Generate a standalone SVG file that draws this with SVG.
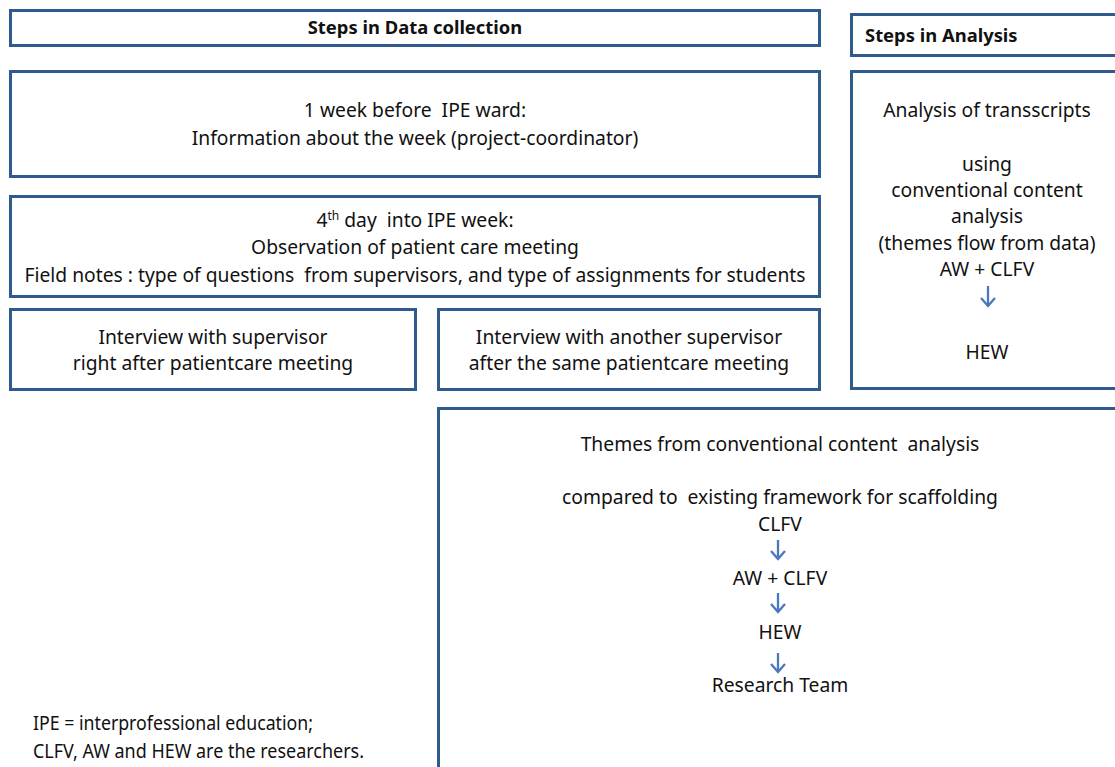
<svg xmlns="http://www.w3.org/2000/svg" width="1115" height="767" viewBox="0 0 1115 767">
<style>
.box{fill:#fff;stroke:#2F5A8E;stroke-width:3}
.t{font-family:"Noto Sans","Open Sans",sans-serif;font-size:19.3px;fill:#111;text-anchor:middle;white-space:pre}
.l{font-family:"Noto Sans","Open Sans",sans-serif;font-size:19.3px;fill:#111;text-anchor:start}
.b{font-family:"Noto Sans","Open Sans",sans-serif;font-size:18.4px;font-weight:bold;fill:#111}
.arr{stroke:#4A78BE;stroke-width:2.3;fill:none}
</style>
<rect width="1115" height="767" fill="#fff"/>
<g id="data-title"><rect class="box" x="10.5" y="10.5" width="809" height="35"/><text class="b" x="415" y="34" text-anchor="middle">Steps in Data collection</text></g>
<g id="analysis-title"><rect class="box" x="851.5" y="14.5" width="270" height="41"/><text class="b" x="865" y="42">Steps in Analysis</text></g>
<g id="week-before"><rect class="box" x="10.5" y="71.5" width="809" height="105"/>
<text class="t" x="415" y="117" xml:space="preserve">1 week before  IPE ward:</text>
<text class="t" x="415" y="145">Information about the week (project-coordinator)</text></g>
<g id="day4"><rect class="box" x="10.5" y="196.5" width="809" height="100"/>
<text class="t" x="415" y="227" xml:space="preserve">4<tspan font-size="12" dy="-7">th</tspan><tspan dy="7"> day  into IPE week:</tspan></text>
<text class="t" x="415" y="254">Observation of patient care meeting</text>
<text class="t" x="415" y="282" textLength="781" lengthAdjust="spacingAndGlyphs" xml:space="preserve">Field notes : type of questions  from supervisors, and type of assignments for students</text></g>
<g id="interview1"><rect class="box" x="10.5" y="309.5" width="405" height="80"/>
<text class="t" x="213" y="344">Interview with supervisor</text>
<text class="t" x="213" y="370">right after patientcare meeting</text></g>
<g id="interview2"><rect class="box" x="438.5" y="309.5" width="381" height="80"/>
<text class="t" x="629" y="344">Interview with another supervisor</text>
<text class="t" x="629" y="370">after the same patientcare meeting</text></g>
<g id="analysis"><rect class="box" x="851.5" y="71.5" width="270" height="317"/>
<text class="t" x="987" y="117">Analysis of transscripts</text>
<text class="t" x="987" y="171">using</text>
<text class="t" x="987" y="197">conventional content</text>
<text class="t" x="987" y="223">analysis</text>
<text class="t" x="987" y="250">(themes flow from data)</text>
<text class="t" x="987" y="276">AW + CLFV</text>
<text class="t" x="987" y="359">HEW</text></g>
<g id="themes"><rect class="box" x="438.5" y="408.5" width="690" height="370"/>
<text class="t" x="780" y="451" xml:space="preserve">Themes from conventional content  analysis</text>
<text class="t" x="780" y="504" xml:space="preserve">compared to  existing framework for scaffolding</text>
<text class="t" x="780" y="531">CLFV</text>
<text class="t" x="780" y="585">AW + CLFV</text>
<text class="t" x="780" y="639">HEW</text>
<text class="t" x="780" y="692">Research Team</text></g>
<g id="footnote">
<text class="l" x="33" y="730" textLength="280" lengthAdjust="spacingAndGlyphs">IPE = interprofessional education;</text>
<text class="l" x="33" y="758" textLength="331" lengthAdjust="spacingAndGlyphs">CLFV, AW and HEW are the researchers.</text></g>
<g id="connectors">
<path class="arr" d="M988 286V306M981 298L988 306L995 298"/>
<path class="arr" d="M778 540V559M771 551L778 559L785 551"/>
<path class="arr" d="M778 593V612M771 604L778 612L785 604"/>
<path class="arr" d="M778 653V672M771 664L778 672L785 664"/>
</g>
</svg>
